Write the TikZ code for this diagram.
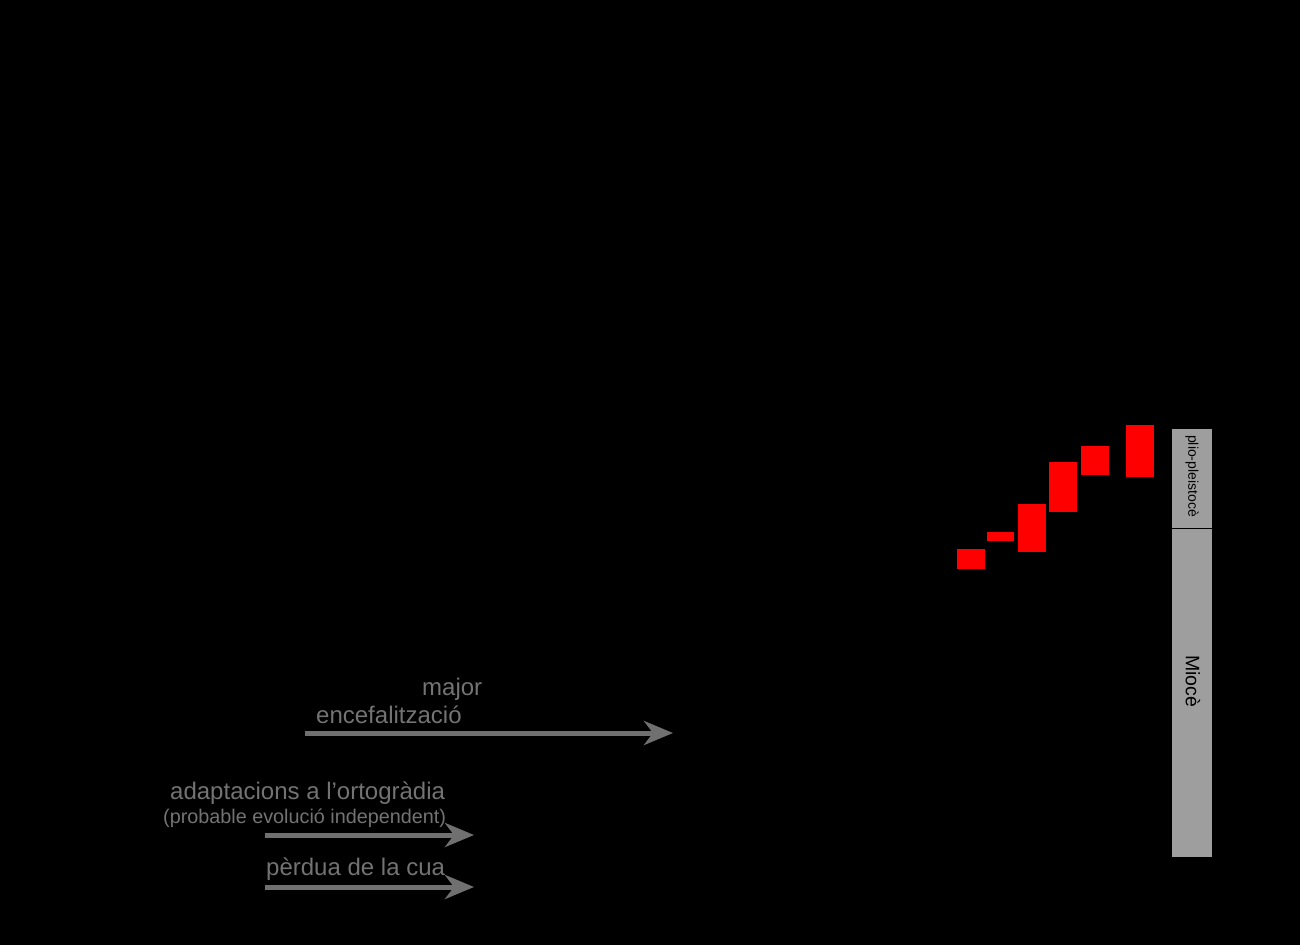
\documentclass[tikz,border=0pt]{standalone}
\usepackage{fontspec}
\setmainfont{Liberation Sans}
\usetikzlibrary{arrows.meta}
\definecolor{txtgray}{RGB}{115,115,115}
\definecolor{arrgray}{RGB}{112,112,112}
\definecolor{bargray}{RGB}{158,158,158}
\definecolor{boxred}{RGB}{255,0,0}
\tikzset{
  lbl/.style={anchor=base west, inner sep=0pt, text=txtgray, font=\fontsize{24}{28}\selectfont},
  lblsmall/.style={anchor=base west, inner sep=0pt, text=txtgray, font=\fontsize{19.8}{23}\selectfont},
  trend/.style={draw=arrgray, line width=5pt, -{Stealth[length=29pt, width=24pt, inset=9pt]}},
  redbox/.style={fill=boxred},
  barlbl/.style={inner sep=0pt, text=black, rotate=-90}
}
\begin{document}
\begin{tikzpicture}[x=1pt,y=-1pt]
\fill[black] (0,0) rectangle (1300,945);
\useasboundingbox (0,0) rectangle (1300,945);

% red boxes
\fill[redbox] (957,549) rectangle (985,569);
\fill[redbox] (987,532) rectangle (1014,541);
\fill[redbox] (1018,504) rectangle (1046,552);
\fill[redbox] (1049,462) rectangle (1077,512);
\fill[redbox] (1081,446) rectangle (1109,475);
\fill[redbox] (1126,425) rectangle (1154,477);

% epoch bar
\fill[bargray] (1172,429) rectangle (1212,857);
\draw[black, line width=1pt] (1172,528) -- (1212,528);
\node[barlbl, font=\fontsize{14}{16}\selectfont] (plio) at (1192,476) {plio-pleistocè};
\node[barlbl, font=\fontsize{19.5}{22}\selectfont] (mioce) at (1193,681) {Miocè};

% trend arrows
\node[lbl] (major) at (422,695) {major};
\node[lbl] (encef) at (316,723) {encefalització};
\coordinate (a1s) at (305,733);
\coordinate (a1e) at (673,733);
\draw[trend] (a1s) -- (a1e);

\node[lbl] (adapt) at (170,799) {adaptacions a l’ortogràdia};
\node[lblsmall] (prob) at (163,823) {(probable evolució independent)};
\coordinate (a2s) at (265,835);
\coordinate (a2e) at (474,835);
\draw[trend] (a2s) -- (a2e);

\node[lbl] (perd) at (266,875) {pèrdua de la cua};
\coordinate (a3s) at (265,887);
\coordinate (a3e) at (474,887);
\draw[trend] (a3s) -- (a3e);
\end{tikzpicture}
\end{document}
